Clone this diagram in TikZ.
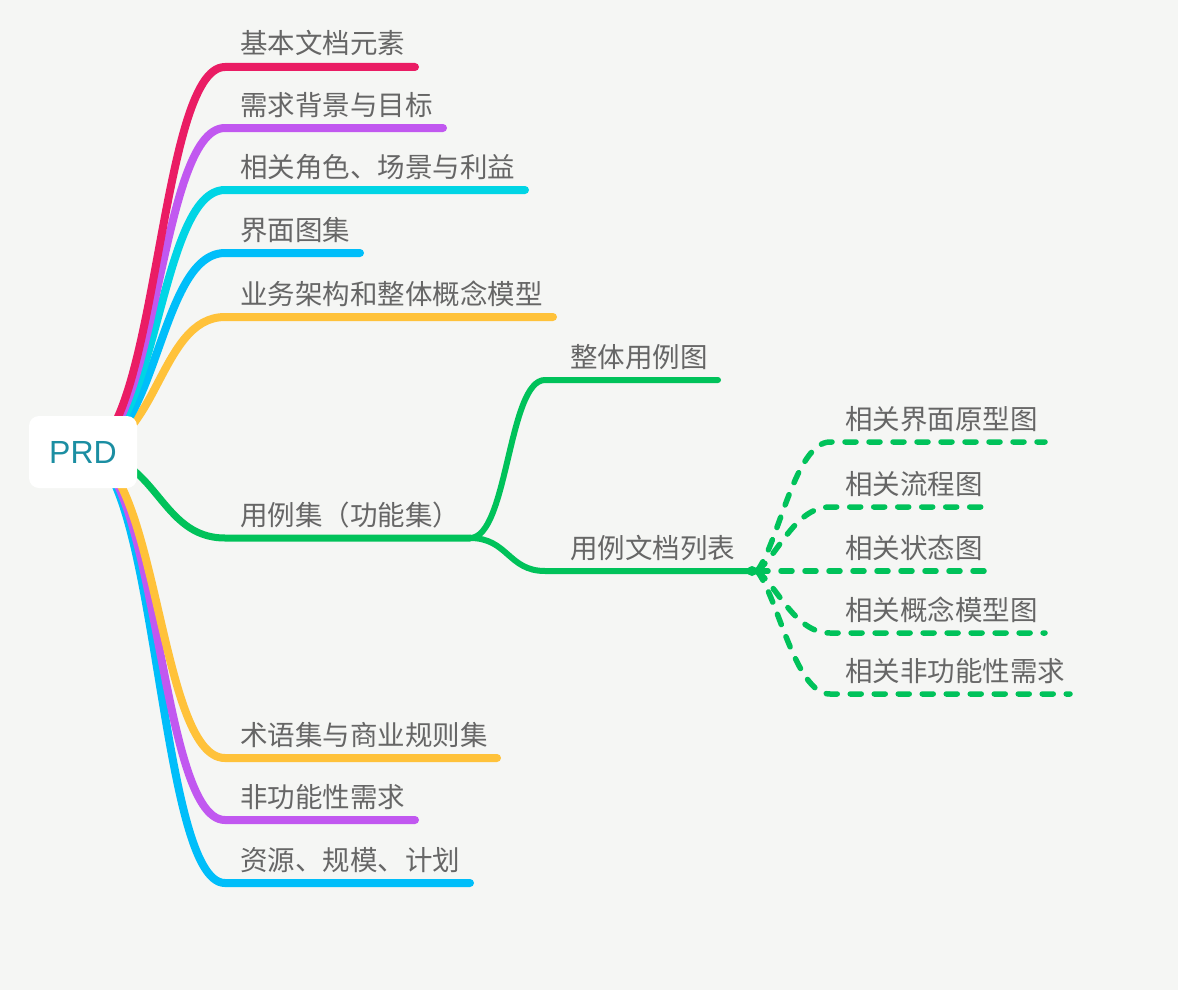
\documentclass[tikz,border=0pt]{standalone}
\usepackage{fontspec}
\newfontfamily\cjk{Noto Sans CJK SC}
\newfontfamily\prdfont{Liberation Sans}
\definecolor{bg}{HTML}{F5F6F4}
\definecolor{txt}{HTML}{666666}
\definecolor{cpink}{HTML}{EA1C64}
\definecolor{cpurple}{HTML}{C158F0}
\definecolor{ccyan}{HTML}{00D5E5}
\definecolor{cblue}{HTML}{00BEFA}
\definecolor{cyellow}{HTML}{FFC23A}
\definecolor{cgreen}{HTML}{00C25A}
\definecolor{cteal}{HTML}{1B8EA2}
\begin{document}
\begin{tikzpicture}[x=1pt,y=-1pt,
  br/.style={line width=8pt, line cap=round},
  br2/.style={line width=6pt, line cap=round, cgreen},
  dsh/.style={line width=5.5pt, line cap=round, dash pattern=on 11pt off 13pt, cgreen},
  lbl/.style={anchor=base west, inner sep=0pt, text=txt, font=\cjk\fontsize{27.5}{32}\selectfont}]
\fill[bg] (0,0) rectangle (1178,990);
\useasboundingbox (0,0) rectangle (1178,990);

\coordinate (r) at (83,452);
% top branches
\coordinate (k1) at (225,67);  \coordinate (e1) at (415,67);
\coordinate (k2) at (225,128); \coordinate (e2) at (443,128);
\coordinate (k3) at (225,190); \coordinate (e3) at (525,190);
\coordinate (k4) at (225,253); \coordinate (e4) at (360,253);
\coordinate (k5) at (225,317); \coordinate (e5) at (553,317);
% bottom branches
\coordinate (k7) at (225,758); \coordinate (e7) at (497,758);
\coordinate (k8) at (225,820); \coordinate (e8) at (415,820);
\coordinate (k9) at (225,883); \coordinate (e9) at (470,883);
% green
\coordinate (k6) at (225,538); \coordinate (j1) at (470,538);
\coordinate (k61) at (545,380); \coordinate (e61) at (718,380);
\coordinate (k62) at (545,571); \coordinate (j2) at (752,571);
\coordinate (j3) at (757,571);
\coordinate (d1) at (830,442); \coordinate (f1) at (1045,442);
\coordinate (d2) at (830,507); \coordinate (f2) at (993,507);
\coordinate (d3) at (830,571); \coordinate (f3) at (993,571);
\coordinate (d4) at (830,633); \coordinate (f4) at (1045,633);
\coordinate (d5) at (830,694); \coordinate (f5) at (1070,694);

\draw[br,cblue]   (r) .. controls (158,452) and (158,883) .. (k9) -- (e9);
\draw[br,cpurple] (r) .. controls (158,452) and (158,820) .. (k8) -- (e8);
\draw[br,cyellow] (r) .. controls (158,452) and (158,758) .. (k7) -- (e7);
\draw[br,cyellow] (r) .. controls (158,452) and (158,317) .. (k5) -- (e5);
\draw[br,cblue]   (r) .. controls (158,452) and (158,253) .. (k4) -- (e4);
\draw[br,ccyan]   (r) .. controls (158,452) and (158,190) .. (k3) -- (e3);
\draw[br,cpurple] (r) .. controls (158,452) and (158,128) .. (k2) -- (e2);
\draw[br,cpink]   (r) .. controls (158,452) and (158,67) .. (k1) -- (e1);
\draw[line width=7pt, line cap=round, cgreen] (r) .. controls (158,452) and (158,538) .. (k6) -- (j1);

\draw[br2] (j1) .. controls (508,538) and (508,380) .. (k61) -- (e61);
\draw[br2] (j1) .. controls (508,538) and (508,571) .. (k62) -- (j2);
\fill[cgreen] (j2) circle (5pt);

\draw[dsh] (j3) .. controls (778,545) and (795,442) .. (d1) -- (f1);
\draw[dsh] (j3) .. controls (778,555) and (795,507) .. (d2) -- (f2);
\draw[dsh] (j3) -- (d3) -- (f3);
\draw[dsh] (j3) .. controls (778,587) and (795,633) .. (d4) -- (f4);
\draw[dsh] (j3) .. controls (778,597) and (795,694) .. (d5) -- (f5);

\node[fill=white, rounded corners=10pt, minimum width=108pt, minimum height=72pt,
      text=cteal, font=\prdfont\fontsize{32}{36}\selectfont] (prd) at (83,452) {PRD};

\node[lbl] (t1) at (240,54)  {基本文档元素};
\node[lbl] (t2) at (240,115) {需求背景与目标};
\node[lbl] (t3) at (240,177) {相关角色、场景与利益};
\node[lbl] (t4) at (240,240) {界面图集};
\node[lbl] (t5) at (240,304) {业务架构和整体概念模型};
\node[lbl] (t6) at (240,525) {用例集（功能集）};
\node[lbl] (t7) at (240,745) {术语集与商业规则集};
\node[lbl] (t8) at (240,807) {非功能性需求};
\node[lbl] (t9) at (240,870) {资源、规模、计划};
\node[lbl] (t61) at (570,367) {整体用例图};
\node[lbl] (t62) at (570,558) {用例文档列表};
\node[lbl] (s1) at (845,429) {相关界面原型图};
\node[lbl] (s2) at (845,494) {相关流程图};
\node[lbl] (s3) at (845,558) {相关状态图};
\node[lbl] (s4) at (845,620) {相关概念模型图};
\node[lbl] (s5) at (845,681) {相关非功能性需求};
\end{tikzpicture}
\end{document}
